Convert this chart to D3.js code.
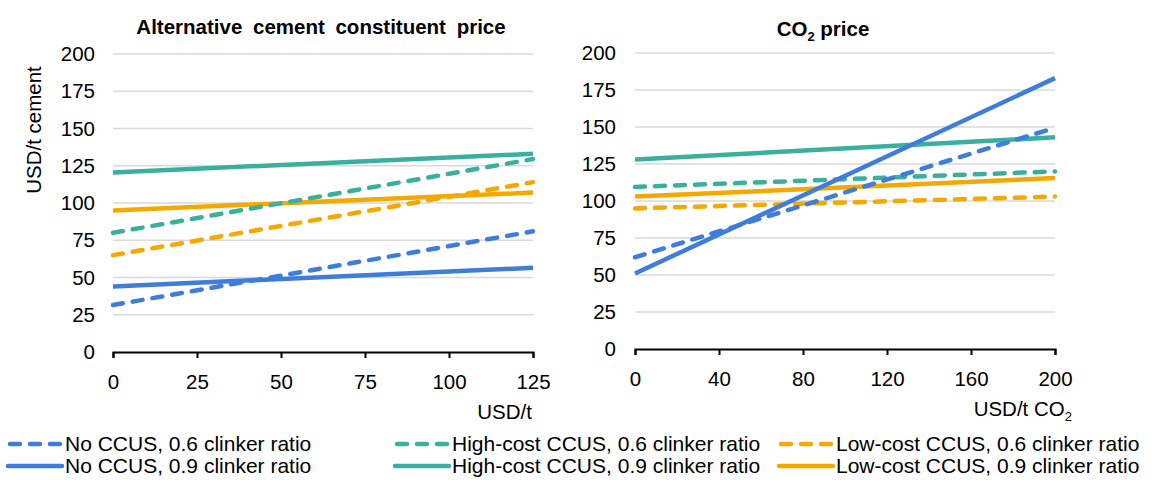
<!DOCTYPE html>
<html>
<head>
<meta charset="utf-8">
<script src="https://cdn.jsdelivr.net/npm/d3@7"></script>
<style>
  html, body { margin: 0; padding: 0; background: #fff; }
  svg { display: block; font-family: "Liberation Sans", Arial, sans-serif; }
</style>
</head>
<body>
<svg id="chart" width="1154" height="480"></svg>
<script>
// ---------- DATA ----------
const seriesNames = [
  "No CCUS, 0.6 clinker ratio",
  "High-cost CCUS, 0.6 clinker ratio",
  "Low-cost CCUS, 0.6 clinker ratio",
  "No CCUS, 0.9 clinker ratio",
  "High-cost CCUS, 0.9 clinker ratio",
  "Low-cost CCUS, 0.9 clinker ratio"
];
const seriesColors = ["#3f7ddb", "#38b09d", "#f5a800", "#3f7ddb", "#38b09d", "#f5a800"];
const seriesDashed = [true, true, true, false, false, false];

// Left panel: alternative cement constituent price (USD/t)
const leftX = [0, 125];
const leftNoCCUS06   = [31.5, 81];
const leftHighCCUS06 = [80, 129.5];
const leftLowCCUS06  = [65, 114];
const leftNoCCUS09   = [44, 56.5];
const leftHighCCUS09 = [120.5, 133];
const leftLowCCUS09  = [95, 107];

// Right panel: CO2 price (USD/t CO2)
const rightX = [0, 200];
const rightNoCCUS06   = [62, 149.5];
const rightHighCCUS06 = [109.5, 120];
const rightLowCCUS06  = [95, 103];
const rightNoCCUS09   = [51, 183];
const rightHighCCUS09 = [128, 143];
const rightLowCCUS09  = [103, 115.5];

const leftXTicks = [0, 25, 50, 75, 100, 125];
const rightXTicks = [0, 40, 80, 120, 160, 200];
const yTicks = [0, 25, 50, 75, 100, 125, 150, 175, 200];

const leftSeries = [leftNoCCUS06, leftHighCCUS06, leftLowCCUS06, leftNoCCUS09, leftHighCCUS09, leftLowCCUS09];
const rightSeries = [rightNoCCUS06, rightHighCCUS06, rightLowCCUS06, rightNoCCUS09, rightHighCCUS09, rightLowCCUS09];

// draw order (bottom -> top)
const drawOrder = [2, 5, 1, 4, 3, 0];

// ---------- DRAW ----------
const svg = d3.select("#chart");
const FS = 20.5;
const LFS = 21;

function panel(cfg) {
  const x = d3.scaleLinear().domain(cfg.xDomain).range([cfg.x0, cfg.x1]);
  const y = d3.scaleLinear().domain([0, 200]).range([cfg.yBottom, cfg.yTop]);
  const g = svg.append("g");

  // gridlines
  g.append("g")
    .selectAll("line")
    .data(yTicks.filter(d => d > 0))
    .join("line")
    .attr("x1", cfg.x0).attr("x2", cfg.x1)
    .attr("y1", d => y(d)).attr("y2", d => y(d))
    .attr("stroke", "#d9d9d9").attr("stroke-width", 1.5);

  // y axis labels
  const ya = g.append("g").attr("transform", `translate(${cfg.yLabelX},0)`)
    .call(d3.axisLeft(y).tickValues(yTicks).tickSize(0).tickPadding(0).tickFormat(d3.format("d")));
  ya.select(".domain").remove();
  ya.selectAll("text").attr("font-size", FS).attr("fill", "#000")
    .attr("font-family", "'Liberation Sans', Arial, sans-serif");

  // x axis
  const xa = g.append("g").attr("transform", `translate(0,${cfg.yBottom})`)
    .call(d3.axisBottom(x).tickValues(cfg.xTicks).tickSize(6).tickSizeOuter(6).tickPadding(cfg.xPad).tickFormat(d3.format("d")));
  xa.select(".domain").attr("stroke", "#000").attr("stroke-width", 2);
  xa.selectAll(".tick line").attr("stroke", "#000").attr("stroke-width", 2);
  xa.selectAll("text").attr("font-size", FS).attr("fill", "#000")
    .attr("font-family", "'Liberation Sans', Arial, sans-serif");

  // lines
  const line = d3.line().x((d, i) => x(cfg.xs[i])).y(d => y(d));
  drawOrder.forEach(si => {
    g.append("path")
      .attr("d", line(cfg.series[si]))
      .attr("fill", "none")
      .attr("stroke", seriesColors[si])
      .attr("stroke-width", 4.5)
      .attr("stroke-linecap", seriesDashed[si] ? "round" : "butt")
      .attr("stroke-dasharray", seriesDashed[si] ? "10,10" : null);
  });
  return g;
}

panel({ xDomain: [0, 125], xs: leftX, x0: 113, x1: 533, yTop: 54, yBottom: 352,
        yLabelX: 95, xTicks: leftXTicks, xPad: 16, series: leftSeries });
panel({ xDomain: [0, 200], xs: rightX, x0: 635, x1: 1055, yTop: 53, yBottom: 349,
        yLabelX: 616, xTicks: rightXTicks, xPad: 16, series: rightSeries });

// titles
svg.append("text").attr("x", 321).attr("y", 34).attr("text-anchor", "middle")
  .attr("font-size", FS).attr("font-weight", "bold").attr("word-spacing", 5)
  .text("Alternative cement constituent price");
const t2 = svg.append("text").attr("x", 823).attr("y", 36).attr("text-anchor", "middle")
  .attr("font-size", FS).attr("font-weight", "bold");
t2.append("tspan").text("CO");
t2.append("tspan").attr("font-size", 13).attr("dy", 5).text("2");
t2.append("tspan").attr("dy", -5).text(" price");

// y axis title
svg.append("text").attr("transform", "translate(41,130) rotate(-90)")
  .attr("text-anchor", "middle").attr("font-size", FS).text("USD/t cement");

// x axis titles
svg.append("text").attr("x", 532).attr("y", 419).attr("text-anchor", "end")
  .attr("font-size", FS).text("USD/t");
const xt2 = svg.append("text").attr("x", 1072).attr("y", 416).attr("text-anchor", "end")
  .attr("font-size", FS);
xt2.append("tspan").text("USD/t CO");
xt2.append("tspan").attr("font-size", 13).attr("dy", 5).text("2");

// legend
const legCols = [{ sx: 8, tx: 65 }, { sx: 395, tx: 452 }, { sx: 779, tx: 836 }];
const legRows = [444, 466];
seriesNames.forEach((name, i) => {
  const col = legCols[i % 3];
  const ry = legRows[Math.floor(i / 3)];
  svg.append("line")
    .attr("x1", col.sx + (seriesDashed[i] ? 2 : 0)).attr("x2", col.sx + 54 - (seriesDashed[i] ? 2 : 0))
    .attr("y1", ry).attr("y2", ry)
    .attr("stroke", seriesColors[i]).attr("stroke-width", 4.5)
    .attr("stroke-linecap", "round")
    .attr("stroke-dasharray", seriesDashed[i] ? "10,10" : null);
  svg.append("text").attr("x", col.tx).attr("y", ry).attr("dy", "0.35em")
    .attr("font-size", LFS).text(name);
});
</script>
</body>
</html>
